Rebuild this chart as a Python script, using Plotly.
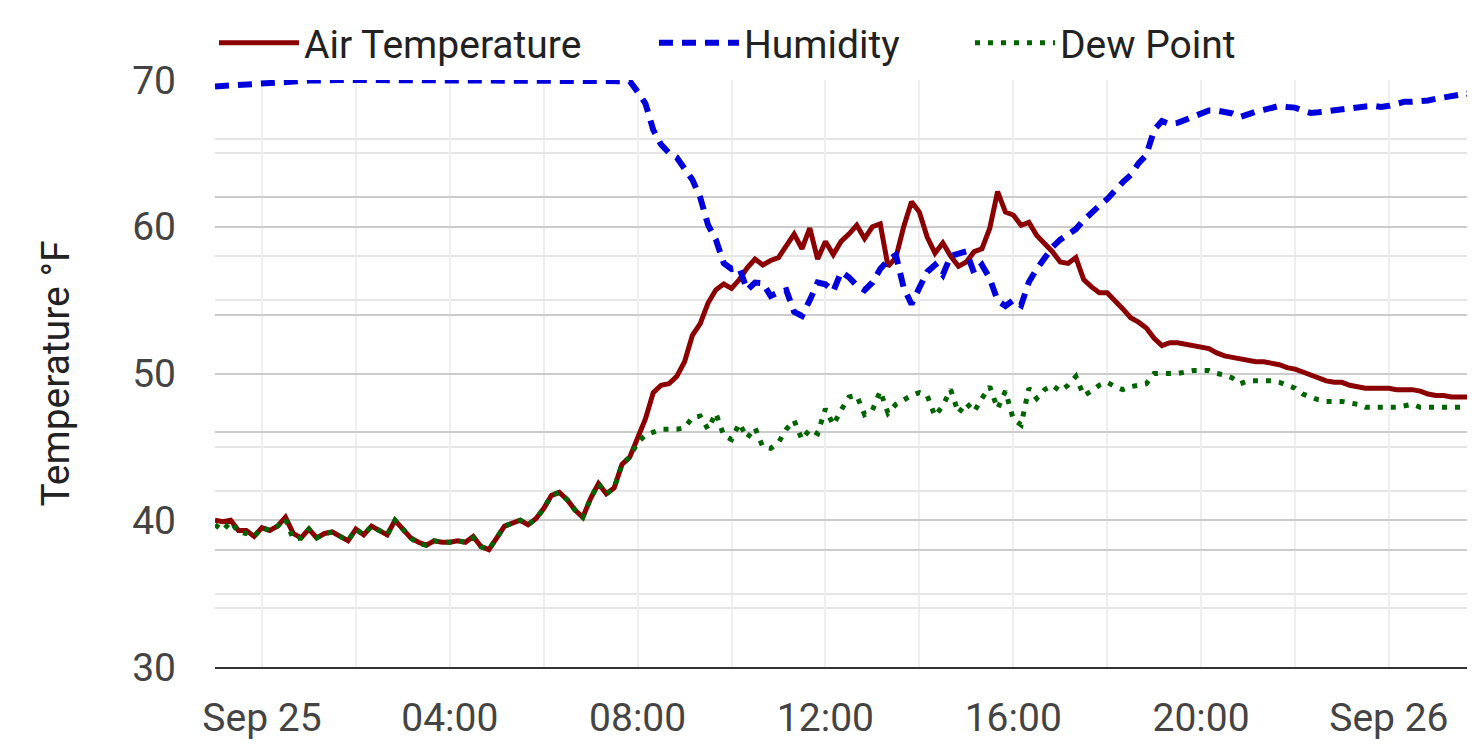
import pandas as pd
import plotly.graph_objects as go

# 10-minute readings, Sep 24 23:00 -> Sep 26 01:50
times = pd.date_range("2023-09-24 23:00", periods=162, freq="10min")

air_temp = [
    40.0, 39.9, 40.0, 39.3, 39.3, 38.9, 39.5, 39.3, 39.6, 40.2,
    39.1, 38.8, 39.4, 38.8, 39.1, 39.2, 38.9, 38.6, 39.4, 39.0,
    39.6, 39.3, 39.0, 40.0, 39.4, 38.8, 38.5, 38.3, 38.6, 38.5,
    38.5, 38.6, 38.5, 38.9, 38.2, 38.0, 38.8, 39.6, 39.8, 40.0,
    39.7, 40.1, 40.8, 41.7, 41.9, 41.4, 40.7, 40.2, 41.5, 42.5,
    41.8, 42.2, 43.8, 44.3, 45.6, 46.9, 48.7, 49.2, 49.3, 49.8,
    50.8, 52.6, 53.4, 54.8, 55.7, 56.1, 55.8, 56.4, 57.2, 57.8,
    57.4, 57.7, 57.9, 58.7, 59.5, 58.5, 59.9, 57.8, 59.0, 58.1,
    59.0, 59.5, 60.1, 59.2, 60.0, 60.2, 57.3, 57.9, 60.0, 61.7,
    61.0, 59.3, 58.2, 58.9, 58.0, 57.3, 57.6, 58.3, 58.5, 59.9,
    62.4, 61.0, 60.8, 60.1, 60.3, 59.4, 58.9, 58.3, 57.6, 57.5,
    57.9, 56.4, 55.9, 55.5, 55.5, 55.0, 54.4, 53.8, 53.5, 53.1,
    52.4, 51.9, 52.1, 52.1, 52.0, 51.9, 51.8, 51.7, 51.4, 51.2,
    51.1, 51.0, 50.9, 50.8, 50.8, 50.7, 50.6, 50.4, 50.3, 50.1,
    49.9, 49.7, 49.5, 49.4, 49.4, 49.2, 49.1, 49.0, 49.0, 49.0,
    49.0, 48.9, 48.9, 48.9, 48.8, 48.6, 48.5, 48.5, 48.4, 48.4,
    48.4, 48.4,
]

humidity = [
    98.9, 99.0, 99.0, 99.1, 99.1, 99.3, 99.5, 99.6, 99.6, 99.7,
    99.7, 99.8, 99.9, 99.9, 100, 100, 100, 100, 100, 100,
    100, 100, 100, 100, 100, 100, 100, 100, 100, 100,
    100, 100, 100, 100, 100, 100, 100, 100, 100, 100,
    100, 100, 100, 100, 100, 100, 100, 100, 100, 100,
    100, 100, 100, 99.8, 98.0, 96.0, 91.5, 89.0, 87.6, 86.8,
    84.9, 83.0, 80.0, 75.3, 72.8, 68.8, 67.8, 68.0, 64.2, 65.5,
    65.4, 63.2, 63.8, 64.2, 60.5, 59.8, 62.5, 65.5, 65.2, 64.0,
    67.3, 66.4, 65.0, 64.2, 65.5, 67.8, 69.3, 70.2, 64.6, 61.8,
    64.6, 67.3, 68.5, 66.8, 70.0, 70.5, 70.8, 67.1, 68.5, 66.2,
    62.4, 61.5, 62.5, 61.6, 65.6, 67.8, 69.6, 71.5, 72.8, 73.8,
    74.6, 76.1, 77.5, 78.6, 79.7, 81.3, 82.6, 83.8, 85.8, 87.2,
    91.5, 93.0, 92.5, 92.7, 93.2, 93.7, 94.4, 94.8, 94.8, 94.5,
    94.3, 93.7, 94.2, 94.6, 94.9, 95.3, 95.6, 95.4, 95.3, 94.8,
    94.4, 94.5, 94.7, 94.9, 95.1, 95.2, 95.4, 95.5, 95.6, 95.4,
    95.6, 96.0, 96.3, 96.3, 96.3, 96.5, 96.8, 97.0, 97.3, 97.5,
    97.7, 97.1,
]

dew_point = [
    39.7, 39.3, 39.9, 39.2, 39.1, 38.9, 39.5, 39.3, 39.6, 40.1,
    38.7, 38.8, 39.4, 38.8, 39.1, 39.2, 38.9, 38.6, 39.4, 39.0,
    39.6, 39.3, 39.0, 40.0, 39.4, 38.8, 38.4, 38.3, 38.6, 38.5,
    38.5, 38.6, 38.5, 38.8, 38.2, 38.0, 38.8, 39.6, 39.8, 40.0,
    39.7, 40.1, 40.8, 41.7, 41.9, 41.4, 40.7, 40.2, 41.5, 42.5,
    41.8, 42.2, 43.8, 44.3, 45.3, 45.8, 46.0, 46.2, 46.2, 46.2,
    46.3, 47.0, 47.1, 46.2, 47.3, 45.8, 45.5, 46.6, 45.6, 46.3,
    45.0, 44.9, 45.3, 46.2, 46.8, 45.5, 46.2, 45.9, 47.6, 46.5,
    47.5, 48.4, 48.5, 47.2, 47.5, 48.8, 47.3, 47.9, 48.2, 48.5,
    48.7, 48.5, 47.1, 47.8, 48.9, 47.3, 48.0, 47.4, 48.3, 49.1,
    47.6, 48.8, 46.9, 46.5, 49.0, 48.3, 48.9, 49.2, 48.8, 49.2,
    49.8, 48.5, 48.8, 49.2, 49.4, 49.1, 48.9, 49.1, 49.2, 49.3,
    50.0, 50.0, 50.0, 50.0, 50.1, 50.2, 50.2, 50.2, 50.0, 49.9,
    49.7, 49.3, 49.5, 49.5, 49.5, 49.5, 49.4, 49.2, 49.0, 48.6,
    48.4, 48.2, 48.1, 48.1, 48.1, 48.0, 47.9, 47.7, 47.7, 47.7,
    47.7, 47.7, 47.8, 47.9, 47.7, 47.7, 47.7, 47.7, 47.7, 47.7,
    47.7, 47.6,
]

tick_times = ["2023-09-25 00:00", "2023-09-25 04:00", "2023-09-25 08:00",
              "2023-09-25 12:00", "2023-09-25 16:00", "2023-09-25 20:00",
              "2023-09-26 00:00"]
tick_labels = ["Sep 25", "04:00", "08:00", "12:00", "16:00", "20:00", "Sep 26"]

fig = go.Figure()
fig.add_trace(go.Scatter(x=times, y=air_temp, name="Air Temperature", mode="lines",
                         legend="legend",
                         line=dict(color="#8b0000", width=5)))
fig.add_trace(go.Scatter(x=times, y=dew_point, name="Dew Point", mode="lines",
                         legend="legend3",
                         line=dict(color="#006400", width=5, dash="5px,8px")))
fig.add_trace(go.Scatter(x=times, y=humidity, name="Humidity", mode="lines", yaxis="y2",
                         legend="legend2",
                         line=dict(color="#0000dd", width=6, dash="14px,9px")))

# one legend per series so the entries sit where they do in the original
leg = dict(orientation="h", xanchor="left", y=1.063, yanchor="middle",
           font=dict(size=39, color="#222"), itemwidth=80, bgcolor="rgba(0,0,0,0)")

fig.update_layout(
    width=1467, height=742,
    margin=dict(l=207, r=0, t=72, b=83),
    paper_bgcolor="white", plot_bgcolor="white",
    font=dict(family="Roboto", size=39, color="#444"),
    showlegend=True,
    legend=dict(leg, x=-0.0008),
    legend2=dict(leg, x=0.3484),
    legend3=dict(leg, x=0.5992),
    xaxis=dict(
        range=[times[0], times[-1]],
        tickvals=tick_times, ticktext=tick_labels,
        showgrid=True, gridcolor="#efefef", gridwidth=2,
        minor=dict(dtick=2 * 3600 * 1000, showgrid=True, gridcolor="#efefef", gridwidth=2),
        showline=True, linecolor="#333", linewidth=2,
        ticks="", ticklabelstandoff=15,
        tickfont=dict(size=39, color="#444"),
    ),
    yaxis=dict(
        range=[30, 70], dtick=10,
        title=dict(text="Temperature °F", standoff=50, font=dict(size=39, color="#222")),
        showgrid=True, gridcolor="#cccccc", gridwidth=2,
        minor=dict(dtick=5, showgrid=True, gridcolor="#e6e6e6", gridwidth=2),
        zeroline=False, ticks="", ticklabelstandoff=38,
        tickfont=dict(size=39, color="#444"),
    ),
    yaxis2=dict(
        range=[0, 100], dtick=20, overlaying="y", side="right",
        showticklabels=False, showgrid=True, gridcolor="#cccccc", gridwidth=2,
        minor=dict(dtick=10, showgrid=True, gridcolor="#e6e6e6", gridwidth=2),
        zeroline=False,
    ),
)

fig.write_html("out.html")
